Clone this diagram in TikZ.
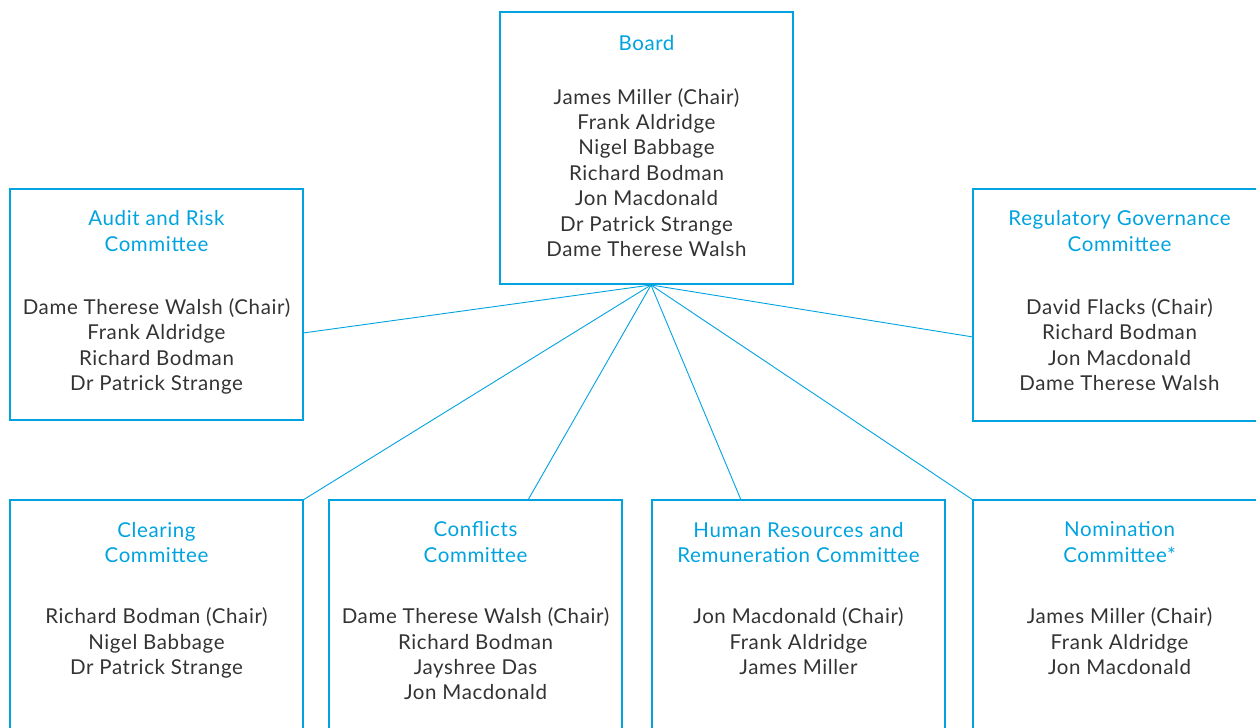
\documentclass[tikz,border=0pt]{standalone}
\usepackage{fontspec}
\setmainfont[LetterSpace=3]{Lato}
\usetikzlibrary{calc}
\definecolor{cblue}{RGB}{0,163,224}
\definecolor{ink}{RGB}{51,51,51}
\tikzset{
  box/.style={draw=cblue, line width=2.6pt, minimum width=293pt, anchor=north west, inner sep=0pt, outer sep=0pt},
  heading/.style={text=cblue, align=center, anchor=north, inner sep=0pt, font=\fontsize{20.5}{25.4}\selectfont, execute at begin node=\strut},
  members/.style={heading, text=ink},
  link/.style={draw=cblue, line width=0.9pt},
}
\begin{document}
\begin{tikzpicture}[x=1pt,y=-1pt]
\clip (0,0) rectangle (1256,728);
\node[box, minimum height=272pt] (board) at (500,12) {};
\node[box, minimum height=231pt] (audit) at (10,189) {};
\node[box, minimum height=232pt] (reg) at (973,189) {};
\node[box, minimum height=300pt] (clear) at (10,500) {};
\node[box, minimum height=300pt] (confl) at (329,500) {};
\node[box, minimum height=300pt] (hr) at (652,500) {};
\node[box, minimum height=300pt] (nomin) at (973,500) {};

\node[heading] (boardhead) at ($(board.north) + (0, 20.2)$) {Board};
\node[members] (boardlist) at ($(board.north) + (0, 76)$) {James Miller (Chair)\\Frank Aldridge\\Nigel Babbage\\Richard Bodman\\Jon Macdonald\\Dr Patrick Strange\\Dame Therese Walsh};

\node[heading] (audithead) at ($(audit.north) + (0, 21.5)$) {Audit and Risk\\Committee};
\node[members] (auditlist) at ($(audit.north) + (0, 109.2)$) {Dame Therese Walsh (Chair)\\Frank Aldridge\\Richard Bodman\\Dr Patrick Strange};

\node[heading] (reghead) at ($(reg.north) + (0, 21.5)$) {Regulatory Governance\\Committee};
\node[members] (reglist) at ($(reg.north) + (0, 109.2)$) {David Flacks (Chair)\\Richard Bodman\\Jon Macdonald\\Dame Therese Walsh};

\node[heading] (clearhead) at ($(clear.north) + (0, 21.7)$) {Clearing\\Committee};
\node[members] (clearlist) at ($(clear.north) + (0, 107.5)$) {Richard Bodman (Chair)\\Nigel Babbage\\Dr Patrick Strange};

\node[heading] (conflhead) at ($(confl.north) + (0, 21.7)$) {Conflicts\\Committee};
\node[members] (confllist) at ($(confl.north) + (0, 107.5)$) {Dame Therese Walsh (Chair)\\Richard Bodman\\Jayshree Das\\Jon Macdonald};

\node[heading] (hrhead) at ($(hr.north) + (0, 21.7)$) {Human Resources and\\Remuneration Committee};
\node[members] (hrlist) at ($(hr.north) + (0, 107.5)$) {Jon Macdonald (Chair)\\Frank Aldridge\\James Miller};

\node[heading] (nominhead) at ($(nomin.north) + (0, 21.7)$) {Nomination\\Committee*};
\node[members] (nominlist) at ($(nomin.north) + (0, 107.5)$) {James Miller (Chair)\\Frank Aldridge\\Jon Macdonald};

\coordinate (hub) at ($(board.south) + (4.5, 1)$);
\coordinate (auditend) at ($(audit.north east) + (0, 144)$);
\coordinate (regend) at ($(reg.north west) + (0, 148)$);
\coordinate (conflend) at ($(confl.north west) + (199, 0)$);
\coordinate (hrend) at ($(hr.north west) + (89, 0)$);

\draw[link] (hub) -- (auditend);
\draw[link] (hub) -- (regend);
\draw[link] (hub) -- (clear.north east);
\draw[link] (hub) -- (conflend);
\draw[link] (hub) -- (hrend);
\draw[link] (hub) -- (nomin.north west);
\end{tikzpicture}
\end{document}
